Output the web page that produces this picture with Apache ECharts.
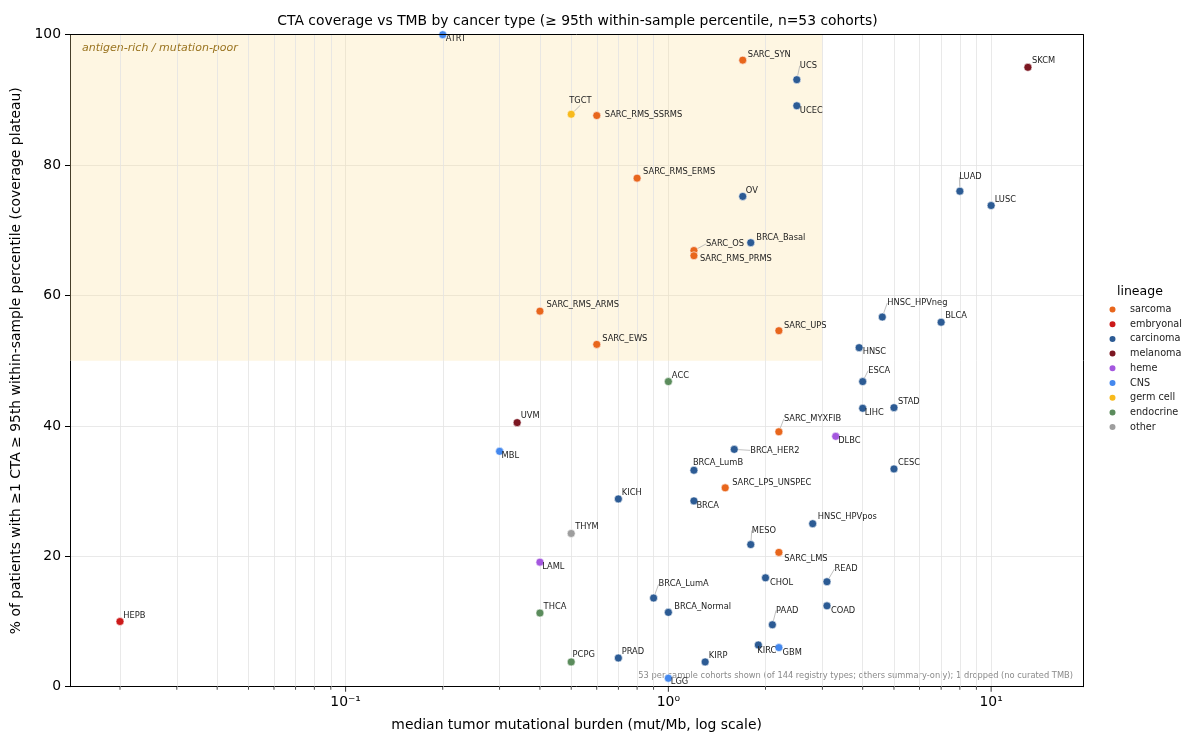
<!DOCTYPE html>
<html>
<head>
<meta charset="utf-8">
<script src="https://cdn.jsdelivr.net/npm/echarts@6/dist/echarts.min.js"></script>
<style>html,body{margin:0;padding:0;background:#fff}#c{width:1200px;height:750px}</style>
</head>
<body>
<div id="c"></div>
<script>
// ---------------- data ----------------
const cohorts = ['ATRT','SARC_SYN','UCS','UCEC','TGCT','SARC_RMS_SSRMS','SARC_RMS_ERMS','OV','BRCA_Basal','SARC_OS',
  'SARC_RMS_PRMS','SKCM','LUAD','LUSC','SARC_RMS_ARMS','SARC_EWS','SARC_UPS','ACC','UVM','SARC_MYXFIB',
  'DLBC','MBL','BRCA_HER2','BRCA_LumB','HNSC_HPVneg','BLCA','HNSC','ESCA','LIHC','STAD',
  'CESC','SARC_LPS_UNSPEC','KICH','BRCA','HNSC_HPVpos','THYM','MESO','SARC_LMS','LAML','CHOL',
  'READ','BRCA_LumA','THCA','BRCA_Normal','COAD','PAAD','KIRC','GBM','PCPG','PRAD',
  'KIRP','LGG','HEPB'];
const tmb = [0.2,1.7,2.5,2.5,0.5,0.6,0.8,1.7,1.8,1.2,
  1.2,13,8,10,0.4,0.6,2.2,1.0,0.34,2.2,
  3.3,0.3,1.6,1.2,4.6,7,3.9,4.0,4.0,5.0,
  5.0,1.5,0.7,1.2,2.8,0.5,1.8,2.2,0.4,2.0,
  3.1,0.9,0.4,1.0,3.1,2.1,1.9,2.2,0.5,0.7,
  1.3,1.0,0.02];
const coverage = [100,96.1,93.1,89.1,87.8,87.6,78.0,75.2,68.1,66.9,
  66.1,95.0,76.0,73.8,57.6,52.5,54.6,46.8,40.5,39.1,
  38.4,36.1,36.4,33.2,56.7,55.9,52.0,46.8,42.7,42.8,
  33.4,30.5,28.8,28.5,25.0,23.5,21.8,20.6,19.1,16.7,
  16.1,13.6,11.3,11.4,12.4,9.5,6.4,6.0,3.8,4.4,
  3.8,1.3,10.0];
const lineage = ['CNS','sarcoma','carcinoma','carcinoma','germ cell','sarcoma','sarcoma','carcinoma','carcinoma','sarcoma',
  'sarcoma','melanoma','carcinoma','carcinoma','sarcoma','sarcoma','sarcoma','endocrine','melanoma','sarcoma',
  'heme','CNS','carcinoma','carcinoma','carcinoma','carcinoma','carcinoma','carcinoma','carcinoma','carcinoma',
  'carcinoma','sarcoma','carcinoma','carcinoma','carcinoma','other','carcinoma','sarcoma','heme','carcinoma',
  'carcinoma','carcinoma','endocrine','carcinoma','carcinoma','carcinoma','carcinoma','CNS','endocrine','carcinoma',
  'carcinoma','CNS','embryonal'];
const lineages = ['sarcoma','embryonal','carcinoma','melanoma','heme','CNS','germ cell','endocrine','other'];

// axis ticks
const yTicks = [0,20,40,60,80,100];
const xMajorTicks = [0.1,1,10];
const xMinorTicks = [0.02,0.03,0.04,0.05,0.06,0.07,0.08,0.09,0.2,0.3,0.4,0.5,0.6,0.7,0.8,0.9,2,3,4,5,6,7,8,9];
const xMajorLabels = {'0.1':'10\u207B\u00B9','1':'10\u2070','10':'10\u00B9'};

// shaded quadrant bounds
const shadeTmbMax = 3;
const shadeCovMin = 50;

// ---------------- styles / layout ----------------
const lineageColors = {
  'sarcoma':'#e8661c','embryonal':'#cc1a1a','carcinoma':'#2c5b94','melanoma':'#7c1722',
  'heme':'#a457df','CNS':'#4488ee','germ cell':'#f8ba1c','endocrine':'#5b8c5c','other':'#9e9e9e'
};
// label offsets (label left edge, label vertical middle) relative to the marker
const labelOffsets = {
  ATRT:[3,4], SARC_SYN:[5,-5], UCS:[3,-14], UCEC:[3,5], TGCT:[-2,-13], SARC_RMS_SSRMS:[8,-1],
  SARC_RMS_ERMS:[6,-6], OV:[3,-6], BRCA_Basal:[5.5,-5], SARC_OS:[12,-6.5], SARC_RMS_PRMS:[6,3.5],
  SKCM:[4,-6], LUAD:[-0.5,-14], LUSC:[3.5,-6], SARC_RMS_ARMS:[6.5,-6.5], SARC_EWS:[5.5,-5.5],
  SARC_UPS:[5,-5], ACC:[3.5,-6], UVM:[3.5,-6.5], SARC_MYXFIB:[5,-13], DLBC:[2.5,5], MBL:[2,5],
  BRCA_HER2:[16,1], BRCA_LumB:[-1,-7], HNSC_HPVneg:[5,-14], BLCA:[4,-6], HNSC:[3.5,4.5],
  ESCA:[5.5,-11], LIHC:[2,4.7], STAD:[4,-6], CESC:[4,-6.5], SARC_LPS_UNSPEC:[7,-5.5], KICH:[3.5,-6],
  BRCA:[2.5,4.7], HNSC_HPVpos:[5,-6.5], THYM:[4,-6.3], MESO:[1,-14], SARC_LMS:[5.3,6.3], LAML:[2.3,4.7],
  CHOL:[4.4,5], READ:[7.5,-12.7], BRCA_LumA:[5,-13.7], THCA:[3.7,-6], BRCA_Normal:[6,-5.3], COAD:[4,4.6],
  PAAD:[3.7,-14.4], KIRC:[-1,6], GBM:[3.7,5], PCPG:[1.4,-7.4], PRAD:[3.3,-6.3], KIRP:[3.7,-6.3],
  LGG:[2.4,3.7], HEPB:[3.3,-6]
};
const leaderLabels = ['UCS','TGCT','SARC_OS','LUAD','SARC_MYXFIB','BRCA_HER2','HNSC_HPVneg','ESCA','MESO','READ','BRCA_LumA','PAAD'];

const FONT = 'DejaVu Sans';
const X_MIN = 0.014, X_MAX = 19.3;

// ---------------- build ----------------
const series = lineages.map(lin => {
  const data = [];
  cohorts.forEach((name, i) => {
    if (lineage[i] !== lin) return;
    const off = labelOffsets[name] || [4,-6];
    data.push({
      name: name,
      value: [tmb[i], coverage[i]],
      label: { offset: off },
      labelLine: { show: leaderLabels.indexOf(name) >= 0 }
    });
  });
  return {
    name: lin,
    type: 'scatter',
    z: 5,
    symbol: 'circle',
    symbolSize: 8,
    itemStyle: { color: lineageColors[lin], borderColor: '#ffffff', borderWidth: 0.6, opacity: 1 },
    label: {
      show: true, position: 'inside', align: 'left', verticalAlign: 'middle',
      formatter: p => p.name, color: '#222', fontSize: 8.3, fontFamily: FONT
    },
    labelLine: { show: false, lineStyle: { color: '#b0b0b0', width: 0.8 } },
    emphasis: { disabled: true },
    data: data
  };
});

// minor vertical grid lines + shaded region
series.push({
  name: '_grid', type: 'scatter', data: [], silent: true, z: 1,
  markLine: {
    silent: true, symbol: ['none','none'], label: { show: false },
    lineStyle: { color: '#e3e3e3', width: 0.8, type: 'solid' },
    data: xMinorTicks.map(v => ({ xAxis: v }))
  },
  markArea: {
    silent: true,
    itemStyle: { color: 'rgba(250,222,150,0.28)' },
    label: {
      show: true, position: [12, 8], color: '#9a7420', fontStyle: 'italic',
      fontSize: 11, fontFamily: FONT
    },
    data: [[{ name: 'antigen-rich / mutation-poor', coord: [X_MIN, shadeCovMin] }, { coord: [shadeTmbMax, 100] }]]
  }
});
// x-axis tick marks
series.push({
  name: '_minorTicks', type: 'scatter', silent: true, clip: false, z: 6,
  symbol: 'rect', symbolSize: [0.9, 3], symbolOffset: [0, 1.5],
  itemStyle: { color: '#000' },
  data: xMinorTicks.map(v => [v, 0])
});
series.push({
  name: '_majorTicks', type: 'scatter', silent: true, clip: false, z: 6,
  symbol: 'rect', symbolSize: [1, 5], symbolOffset: [0, 2.5],
  itemStyle: { color: '#000' },
  data: xMajorTicks.map(v => [v, 0])
});

const frameAxis = {
  axisLine: { show: true, onZero: false, lineStyle: { color: '#000', width: 1 } },
  axisTick: { show: false }, axisLabel: { show: false }, splitLine: { show: false }, z: 20
};

const option = {
  animation: false,
  backgroundColor: '#ffffff',
  textStyle: { fontFamily: FONT },
  title: {
    text: 'CTA coverage vs TMB by cancer type (\u2265 95th within-sample percentile, n=53 cohorts)',
    left: 572.5, top: 9, textAlign: 'center',
    textStyle: { fontSize: 13.9, fontWeight: 'normal', color: '#000', fontFamily: FONT }
  },
  legend: {
    data: lineages,
    orient: 'vertical',
    left: 1107.5, top: 303.5,
    padding: 0,
    itemWidth: 25, itemHeight: 8, itemGap: 2.7,
    icon: 'circle',
    textStyle: { fontSize: 9.7, color: '#222', fontFamily: FONT, lineHeight: 12 },
    selectedMode: false
  },
  grid: {
    left: 70, right: 116.7, top: 34.7, bottom: 63.3,
    show: false
  },
  xAxis: [{
    type: 'log', logBase: 10, min: X_MIN, max: X_MAX,
    name: 'median tumor mutational burden (mut/Mb, log scale)',
    nameLocation: 'middle', nameGap: 32,
    nameTextStyle: { fontSize: 13.9, color: '#000', fontFamily: FONT },
    axisLine: { show: true, onZero: false, lineStyle: { color: '#000', width: 1 } },
    axisTick: { show: false },
    axisLabel: {
      fontSize: 13.9, color: '#000', margin: 9, fontFamily: FONT,
      formatter: v => {
        for (const k in xMajorLabels) { if (Math.abs(v - Number(k)) / Number(k) < 1e-6) return xMajorLabels[k]; }
        return '';
      }
    },
    splitLine: { show: true, lineStyle: { color: '#e3e3e3', width: 0.8 } }
  }, Object.assign({ type: 'log', logBase: 10, min: X_MIN, max: X_MAX, position: 'top' }, frameAxis)],
  yAxis: [{
    type: 'value', min: yTicks[0], max: yTicks[yTicks.length - 1], interval: yTicks[1] - yTicks[0],
    name: '% of patients with \u22651 CTA \u2265 95th within-sample percentile (coverage plateau)',
    nameLocation: 'middle', nameGap: 33,
    nameTextStyle: { fontSize: 13.9, color: '#000', fontFamily: FONT },
    axisLine: { show: true, lineStyle: { color: '#000', width: 1 } },
    axisTick: { show: true, length: 5, lineStyle: { color: '#000' } },
    axisLabel: { fontSize: 13.9, color: '#000', margin: 9, fontFamily: FONT },
    splitLine: { show: true, lineStyle: { color: '#e3e3e3', width: 0.8 } }
  }, Object.assign({ type: 'value', min: yTicks[0], max: yTicks[yTicks.length - 1], position: 'right' }, frameAxis)],
  graphic: [
    {
      type: 'text', left: 1142 - 25, top: 285, z: 10,
      style: { text: 'lineage', fontSize: 12.5, fill: '#000', fontFamily: FONT }
    },
    {
      type: 'text', right: 127, top: 672, z: 1,
      style: {
        text: '53 per-sample cohorts shown (of 144 registry types; others summary-only); 1 dropped (no curated TMB)',
        fontSize: 8.3, fill: '#8a8a8a', fontFamily: FONT
      }
    }
  ],
  series: series
};

const chart = echarts.init(document.getElementById('c'), null, { renderer: 'canvas' });
chart.setOption(option);
</script>
</body>
</html>
